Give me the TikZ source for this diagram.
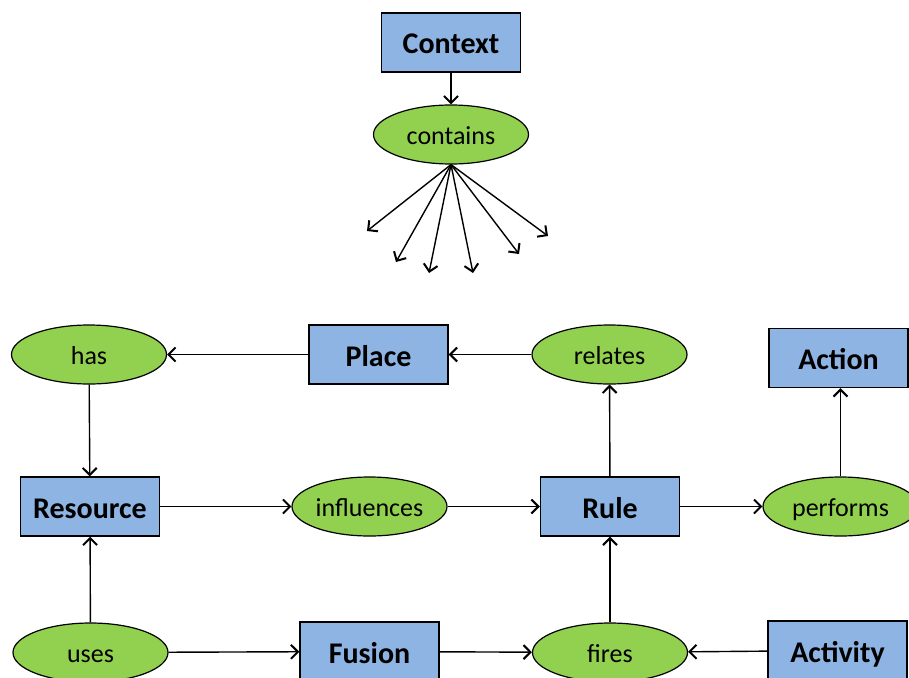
\documentclass[tikz,border=0pt]{standalone}
\usepackage{fontspec}
\setmainfont{Carlito}
\usetikzlibrary{shapes.geometric,arrows.meta}
\definecolor{boxblue}{HTML}{8EB4E3}
\definecolor{ovalgreen}{HTML}{92D050}
\begin{document}
\begin{tikzpicture}[x=1pt,y=-1pt,
  concept/.style={rectangle,draw=black,line width=1.4pt,fill=boxblue,
    minimum width=139pt,minimum height=59pt,inner sep=0pt,
    text height=23pt,text depth=0pt,
    font=\fontsize{30}{34}\selectfont\bfseries},
  relation/.style={ellipse,draw=black,line width=1.2pt,fill=ovalgreen,
    minimum width=155pt,minimum height=59pt,inner sep=0pt,
    text height=20pt,text depth=0pt,
    font=\fontsize{26}{30}\selectfont},
  link/.style={line width=1.4pt,-{Straight Barb[length=7pt,width=14pt,line width=2pt]}}]
\useasboundingbox (0,0) rectangle (909,677);
\clip (0,0) rectangle (909,677);

% concepts
\node[concept] (context)  at (451,42.5)  {Context};
\node[concept] (place)    at (378.5,354.5) {Place};
\node[concept] (action)   at (838.5,358) {Action};
\node[concept] (resource) at (90,506.5)  {Resource};
\node[concept] (rule)     at (610,506.5) {Rule};
\node[concept] (fusion)   at (369.5,651.5) {Fusion};
\node[concept] (activity) at (837.5,650.5) {Activity};

% relations
\node[relation] (contains)   at (451,134.5)   {contains};
\node[relation] (has)        at (89,354.5)    {has};
\node[relation] (relates)    at (609.5,354.5) {relates};
\node[relation] (influences) at (369.5,506.5) {influences};
\node[relation] (performs)   at (840.5,506.5) {performs};
\node[relation] (uses)       at (90.5,652.5)  {uses};
\node[relation] (fires)      at (610,652.5)   {fires};

% open ends of the fan below "contains"
\coordinate (f1) at (367,231);
\coordinate (f2) at (396,262);
\coordinate (f3) at (429,273);
\coordinate (f4) at (473,273);
\coordinate (f5) at (519,254);
\coordinate (f6) at (548,236);

% connectors
\draw[link] (context) -- (contains);
\foreach \f in {f1,f2,f3,f4,f5,f6}
  \draw[link] (contains.south) -- (\f);
\draw[link] (place) -- (has);
\draw[link] (relates) -- (place);
\draw[link] (has) -- (resource);
\draw[link] (resource) -- (influences);
\draw[link] (influences) -- (rule);
\draw[link] (rule) -- (relates);
\draw[link] (rule) -- (performs);
\draw[link] (performs.north) -- (performs.north |- action.south);
\draw[link] (uses) -- (resource);
\draw[link] (uses) -- (fusion);
\draw[link] (fusion) -- (fires);
\draw[link] (fires) -- (rule);
\draw[link] (activity) -- (fires);
\end{tikzpicture}
\end{document}
